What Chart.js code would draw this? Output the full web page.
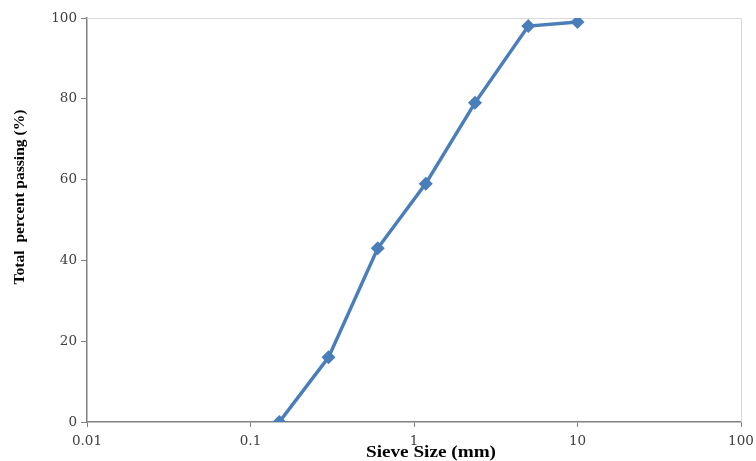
<!DOCTYPE html>
<html>
<head>
<meta charset="utf-8">
<script src="https://cdn.jsdelivr.net/npm/chart.js@4"></script>
<style>
  html, body { margin: 0; padding: 0; background: #fff; }
  #wrap { width: 756px; height: 461px; }
</style>
</head>
<body>
<div id="wrap"><canvas id="chart" width="756" height="461"></canvas></div>
<script>
// Sieve analysis data
const sieveSizes = [0.15, 0.3, 0.6, 1.18, 2.36, 5, 10];
const percentPassing = [0, 16, 43, 59, 79, 98, 99];
const xTicks = [0.01, 0.1, 1, 10, 100];
const yTicks = [0, 20, 40, 60, 80, 100];

const xTitle = 'Sieve Size (mm)';
const yTitle = 'Total  percent passing (%)';

const points = sieveSizes.map((s, i) => ({ x: s, y: percentPassing[i] }));

// draw a title stretched to a given width
function stretchedText(ctx, text, width) {
    const w = ctx.measureText(text).width;
    ctx.save();
    ctx.scale(width / w, 1);
    ctx.fillText(text, 0, 0);
    ctx.restore();
}

// frame lines + axis titles
const extras = {
    id: 'extras',
    beforeDatasetsDraw(chart) {
        const { ctx, chartArea: a } = chart;
        ctx.save();
        ctx.strokeStyle = '#d9d9d9';
        ctx.lineWidth = 1;
        ctx.beginPath();
        ctx.moveTo(a.left, a.top + 0.5);
        ctx.lineTo(a.right + 0.5, a.top + 0.5);
        ctx.lineTo(a.right + 0.5, a.bottom);
        ctx.stroke();
        ctx.restore();
    },
    afterDraw(chart) {
        const { ctx } = chart;
        ctx.save();
        ctx.fillStyle = '#000';
        ctx.font = 'bold 16px "Liberation Serif", "Times New Roman", serif';
        ctx.textAlign = 'center';
        ctx.textBaseline = 'middle';
        ctx.save();
        ctx.translate(431, 453);
        stretchedText(ctx, xTitle, 130);
        ctx.restore();
        ctx.font = 'bold 15px "Liberation Serif", "Times New Roman", serif';
        ctx.translate(20, 197);
        ctx.rotate(-Math.PI / 2);
        stretchedText(ctx, yTitle, 175);
        ctx.restore();
    }
};

new Chart(document.getElementById('chart'), {
    type: 'scatter',
    data: {
        datasets: [{
            data: points,
            showLine: true,
            borderColor: '#4a7ebb',
            backgroundColor: '#4a7ebb',
            borderWidth: 3.5,
            pointStyle: 'rectRot',
            pointRadius: 7,
            pointBorderWidth: 0,
            tension: 0
        }]
    },
    options: {
        responsive: false,
        animation: false,
        layout: { padding: { top: 18, right: 15, left: 0, bottom: 0 } },
        plugins: { legend: { display: false }, tooltip: { enabled: false } },
        scales: {
            x: {
                type: 'logarithmic',
                min: 0.01,
                max: 100,
                afterBuildTicks(scale) {
                    scale.ticks = xTicks.map(v => ({ value: v }));
                },
                afterFit(scale) {
                    scale.height = 39;
                    scale.paddingLeft = 0;
                    scale.paddingRight = 0;
                },
                ticks: {
                    color: '#404040',
                    font: { family: '"DejaVu Serif", serif', size: 13.5 },
                    padding: 6,
                    maxRotation: 0,
                    callback: v => String(v)
                },
                grid: {
                    drawOnChartArea: false,
                    drawTicks: true,
                    tickLength: 5,
                    color: '#808080'
                },
                border: { color: '#808080', width: 1.5 }
            },
            y: {
                min: 0,
                max: 100,
                afterBuildTicks(scale) {
                    scale.ticks = yTicks.map(v => ({ value: v }));
                },
                afterFit(scale) {
                    scale.width = 87;
                    scale.paddingTop = 0;
                    scale.paddingBottom = 0;
                },
                ticks: {
                    color: '#404040',
                    font: { family: '"DejaVu Serif", serif', size: 13.5 },
                    padding: 4
                },
                grid: {
                    drawOnChartArea: false,
                    drawTicks: true,
                    tickLength: 6,
                    color: '#808080'
                },
                border: { color: '#808080', width: 1.5 }
            }
        }
    },
    plugins: [extras]
});
</script>
</body>
</html>
